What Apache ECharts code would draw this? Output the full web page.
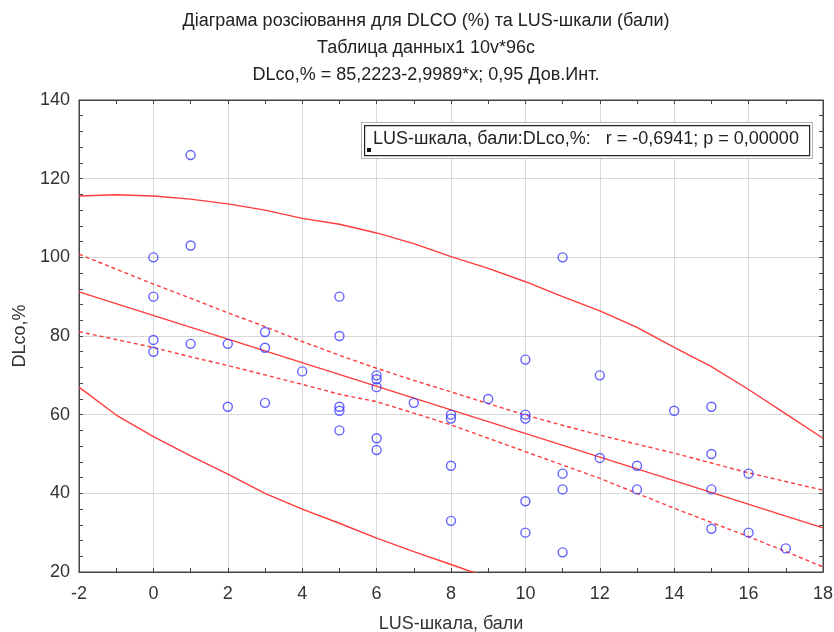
<!DOCTYPE html>
<html>
<head>
<meta charset="utf-8">
<script src="https://cdn.jsdelivr.net/npm/echarts@6/dist/echarts.min.js"></script>
<style>
  html, body { margin: 0; padding: 0; background: #fff; }
  #chart { width: 834px; height: 632px; }
</style>
</head>
<body>
<div id="chart"></div>
<script>
// точки: LUS-шкала (бали) / DLco,%
var lusX = [0, 0, 0, 0, 1, 1, 1, 2, 2, 3, 3, 3, 4, 5, 5, 5, 5, 5, 6, 6, 6, 6, 6, 7,
            8, 8, 8, 8, 9, 10, 10, 10, 10, 10, 11, 11, 11, 11, 12, 12, 13, 13, 14,
            15, 15, 15, 15, 16, 16, 17];
var dlcoY = [100, 90, 79, 76, 126, 103, 78, 78, 62, 81, 77, 63, 71, 90, 80, 62, 61, 56, 70, 69, 67, 54, 51, 63,
             60, 59, 47, 33, 64, 74, 60, 59, 38, 30, 100, 45, 41, 25, 70, 49, 47, 41, 61,
             62, 50, 41, 31, 45, 30, 26];

// лінія регресії (кінці)
var regX = [-2, 18];
var regY = [91.2, 31.2];

// довірчі межі
var bandX = [-2, -1, 0, 1, 2, 3, 4, 5, 6, 7, 8, 9, 10, 11, 12, 13, 14, 15, 16, 17, 18];
var ciUpper = [100.8, 97, 93.2, 89.6, 85.9, 82.4, 78.6, 75.1, 71.8, 68.7, 65.8, 62.8, 59.9, 57.3, 54.8, 52.5, 50.2, 47.7, 45.2, 43, 40.8];
var ciLower = [81.1, 79.1, 77.1, 74.7, 72.5, 70.1, 67.7, 65.2, 63.3, 60.4, 57.4, 54, 50.6, 47.2, 43.8, 40, 36.2, 32.6, 29, 25.2, 21.3];
var piUpper = [115.6, 115.9, 115.6, 114.8, 113.6, 112, 109.9, 108.4, 106.2, 103.5, 100.2, 97.2, 93.8, 90, 86.4, 82.2, 77.1, 72.2, 66.4, 60.2, 54];
var piLower = [67, 59.9, 54.4, 49.5, 44.9, 40, 36, 32.4, 28.6, 25.2, 21.9, 18.6];

var xTicks = { min: -2, max: 18, interval: 2 };
var yTicks = { min: 20, max: 140, interval: 20 };

function pairs(xs, ys) {
    var out = [];
    for (var k = 0; k < ys.length; k++) out.push([xs[k], ys[k]]);
    return out;
}

var RED = '#ff3b3b';
var FONT = 'Liberation Sans, Arial, sans-serif';
var labelFont = { color: '#333', fontSize: 18, fontFamily: FONT };

function line(data, dashed) {
    return {
        type: 'line',
        data: data,
        symbol: 'none',
        silent: true,
        clip: true,
        lineStyle: { color: RED, width: 1.4, type: dashed ? [4, 3] : 'solid' },
        z: 2
    };
}

var echart = echarts.init(document.getElementById('chart'));
var option = {
    animation: false,
    backgroundColor: '#fff',
    title: {
        text: 'Діаграма розсіювання для DLCO (%) та LUS-шкали (бали)\nТаблица данных1 10v*96c\nDLco,% = 85,2223-2,9989*x; 0,95 Дов.Инт.',
        left: 421,
        top: 3,
        textAlign: 'center',
        textStyle: {
            color: '#222',
            fontSize: 18,
            fontWeight: 'normal',
            lineHeight: 27,
            fontFamily: FONT
        }
    },
    grid: {
        left: 79, right: 11, top: 100, bottom: 60,
        outerBoundsMode: 'none',
        containLabel: false,
        show: true, borderColor: '#444', borderWidth: 1
    },
    xAxis: [{
        type: 'value',
        min: xTicks.min, max: xTicks.max, interval: xTicks.interval,
        name: 'LUS-шкала, бали',
        nameLocation: 'middle',
        nameGap: 43,
        nameTextStyle: labelFont,
        axisLine: { show: true, onZero: false, lineStyle: { color: '#444' } },
        axisTick: { show: true, inside: true, length: 4, lineStyle: { color: '#444' } },
        minorTick: { show: true, splitNumber: 2, length: 4, lineStyle: { color: '#444' } },
        axisLabel: Object.assign({ margin: 13 }, labelFont),
        splitLine: { show: true, lineStyle: { color: '#d8d8d8' } }
    }, {
        type: 'value', position: 'top',
        min: xTicks.min, max: xTicks.max, interval: xTicks.interval,
        axisLine: { show: true, onZero: false, lineStyle: { color: '#444' } },
        axisTick: { show: true, inside: true, length: 4, lineStyle: { color: '#444' } },
        minorTick: { show: true, splitNumber: 2, length: 4, lineStyle: { color: '#444' } },
        axisLabel: { show: false },
        splitLine: { show: false }
    }],
    yAxis: [{
        type: 'value',
        min: yTicks.min, max: yTicks.max, interval: yTicks.interval,
        name: 'DLco,%',
        nameLocation: 'middle',
        nameGap: 49,
        nameRotate: 90,
        nameTextStyle: labelFont,
        axisLine: { show: true, onZero: false, lineStyle: { color: '#444' } },
        axisTick: { show: true, inside: true, length: 4, lineStyle: { color: '#444' } },
        minorTick: { show: true, splitNumber: 5, length: 4, lineStyle: { color: '#444' } },
        axisLabel: Object.assign({ margin: 9 }, labelFont),
        splitLine: { show: true, lineStyle: { color: '#d8d8d8' } }
    }, {
        type: 'value', position: 'right',
        min: yTicks.min, max: yTicks.max, interval: yTicks.interval,
        axisLine: { show: true, onZero: false, lineStyle: { color: '#444' } },
        axisTick: { show: true, inside: true, length: 4, lineStyle: { color: '#444' } },
        minorTick: { show: true, splitNumber: 5, length: 4, lineStyle: { color: '#444' } },
        axisLabel: { show: false },
        splitLine: { show: false }
    }],
    graphic: [
        { type: 'rect', left: 361, top: 122, shape: { width: 451, height: 36 }, silent: true,
          style: { fill: '#fff', stroke: '#666', lineWidth: 1, lineDash: [1, 1] }, z: 10 },
        { type: 'rect', left: 364, top: 125, shape: { width: 445, height: 30 }, silent: true,
          style: { fill: '#fff', stroke: '#222', lineWidth: 1.2 }, z: 11 },
        { type: 'rect', left: 367, top: 148, shape: { width: 4, height: 4 }, silent: true,
          style: { fill: '#111' }, z: 12 },
        { type: 'text', left: 373, top: 130, silent: true, z: 12,
          style: { text: 'LUS-шкала, бали:DLco,%:   r = -0,6941; p = 0,00000',
                   fill: '#222', fontSize: 18, fontFamily: FONT } }
    ],
    series: [
        line(pairs(bandX, piUpper), false),
        line(pairs(bandX, piLower), false),
        line(pairs(bandX, ciUpper), true),
        line(pairs(bandX, ciLower), true),
        line(pairs(regX, regY), false),
        {
            type: 'scatter',
            data: pairs(lusX, dlcoY),
            symbol: 'circle',
            symbolSize: 9,
            itemStyle: { color: 'rgba(255,255,255,0)', borderColor: '#3c3cff', borderWidth: 1.4 },
            z: 3
        }
    ]
};
echart.setOption(option);
</script>
</body>
</html>
